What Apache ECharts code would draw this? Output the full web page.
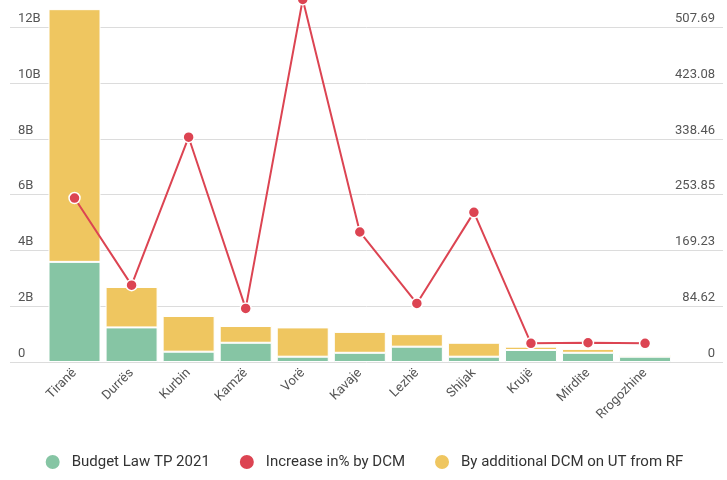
<!DOCTYPE html>
<html>
<head>
<meta charset="utf-8">
<script src="https://cdn.jsdelivr.net/npm/echarts@6/dist/echarts.min.js"></script>
<style>
html,body{margin:0;padding:0;background:#fff;}
#c{width:727px;height:480px;}
</style>
</head>
<body>
<div id="c"></div>
<script>
var categories = ['Tiranë','Durrës','Kurbin','Kamzë','Vorë','Kavaje','Lezhë','Shijak','Krujë','Mirdite','Rrogozhine'];
// values in billions
var budgetLaw = [3.59,1.24,0.37,0.69,0.19,0.33,0.55,0.19,0.43,0.33,0.19];
var additionalDCM = [9.06,1.45,1.28,0.60,1.05,0.75,0.45,0.50,0.12,0.14,0.06];
// percent
var increasePct = [248.7,116.6,341,81.3,550,197.2,88.8,227,28.3,29.2,28.3];
var leftMax = 12, leftInterval = 2;
var rightInterval = 84.6153846;
var rightMax = rightInterval * 6;

var green = '#86c5a4', yellow = '#efc660', red = '#dc4452';
var font = 'Roboto, "Noto Sans", sans-serif';

var chart = echarts.init(document.getElementById('c'), null, {renderer:'canvas'});
var gridTop = 27.3, gridBottom = 118;
chart.setOption({
  animation:false,
  backgroundColor:'#fff',
  textStyle:{fontFamily:font},
  legend:{
    bottom:4, left:'center',
    icon:'circle', itemWidth:16, itemHeight:16, itemGap:28,
    textStyle:{fontSize:15, color:'#333', fontFamily:font, padding:[0,0,0,6]},
    data:['Budget Law TP 2021','Increase in% by DCM','By additional DCM on UT from RF']
  },
  grid:[
    {left:10, right:4, top:gridTop, bottom:gridBottom},
    {left:46, right:53.4, top:gridTop, bottom:gridBottom}
  ],
  xAxis:[
    {type:'category', gridIndex:0, data:categories, show:false},
    {type:'category', gridIndex:1, data:categories,
      axisLine:{show:false}, axisTick:{show:false},
      axisLabel:{rotate:45, interval:0, margin:9, color:'#555', fontSize:13, fontFamily:font}}
  ],
  yAxis:[
    {type:'value', gridIndex:0, min:0, max:leftMax, interval:leftInterval,
      axisLine:{show:false}, axisTick:{show:false},
      splitLine:{lineStyle:{color:'#dcdcdc', width:1}},
      axisLabel:{inside:true, verticalAlign:'bottom', padding:[0,0,2,0], color:'#555', fontSize:13, fontFamily:font,
        formatter:function(v){return v===0?'0':v+'B';}}},
    {type:'value', gridIndex:0, position:'right', min:0, max:rightMax, interval:rightInterval,
      axisLine:{show:false}, axisTick:{show:false}, splitLine:{show:false},
      axisLabel:{inside:true, verticalAlign:'bottom', padding:[0,0,2,0], color:'#555', fontSize:13, fontFamily:font,
        formatter:function(v){return Math.abs(v)<1e-6?'0':v.toFixed(2);}}},
    {type:'value', gridIndex:1, min:0, max:leftMax, interval:leftInterval, show:false, splitLine:{show:false}},
    {type:'value', gridIndex:1, min:0, max:rightMax, interval:rightInterval, show:false, splitLine:{show:false}}
  ],
  series:[
    {name:'Budget Law TP 2021', type:'bar', stack:'a', xAxisIndex:1, yAxisIndex:2, clip:false,
      barWidth:52, data:budgetLaw, itemStyle:{color:green, borderColor:'#fff', borderWidth:1}},
    {name:'By additional DCM on UT from RF', type:'bar', stack:'a', xAxisIndex:1, yAxisIndex:2, clip:false,
      barWidth:52, data:additionalDCM, itemStyle:{color:yellow, borderColor:'#fff', borderWidth:1}},
    {name:'Increase in% by DCM', type:'line', xAxisIndex:1, yAxisIndex:3, data:increasePct,
      symbol:'circle', symbolSize:11, clip:false,
      lineStyle:{color:red, width:2},
      itemStyle:{color:red, borderColor:'#fff', borderWidth:1.5}, z:5}
  ]
});
</script>
</body>
</html>
